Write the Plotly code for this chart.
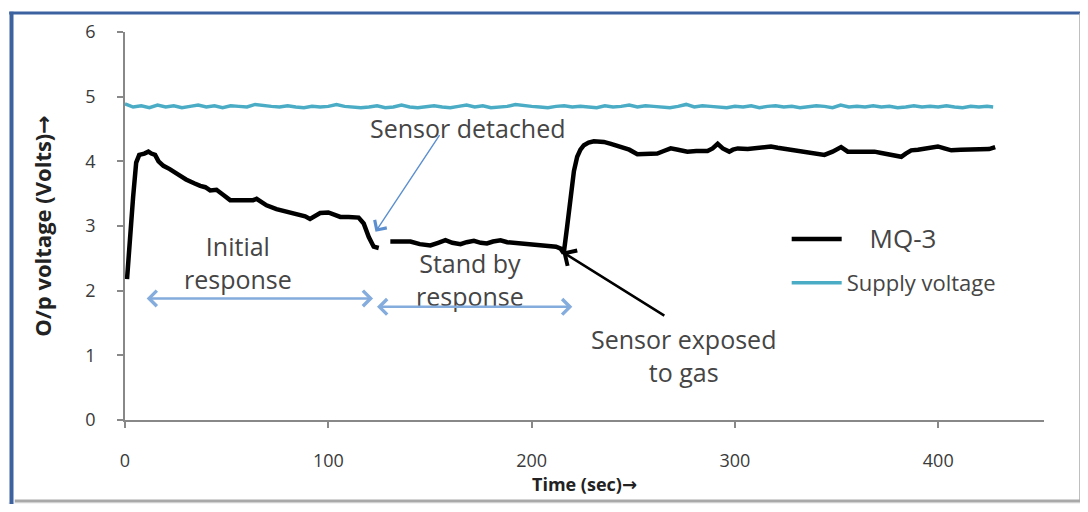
import plotly.graph_objects as go

# ---------------- data ----------------
mq3_time = [1.0, 2.5, 4.0, 5.5, 7.0, 9.5, 11.5, 13.0, 14.8, 16.5, 18.9, 22.0, 25.4, 28.0,
            30.0, 32.0, 34.0, 37.0, 39.5, 41.9, 45.0, 48.4, 51.7, 56.0, 60.0, 63.0, 64.7,
            67.0, 69.6, 74.5, 78.0, 82.8, 88.6, 91.0, 93.5, 96.0, 100.0, 103.0, 105.9,
            110.0, 114.9, 117.4, 119.9, 122.3, 124.8, None,
            130.5, 135.0, 140.4, 145.0, 150.2, 154.0, 157.6, 161.0, 165.0, 168.0, 171.6,
            175.0, 178.0, 181.0, 184.7, 188.0, 191.2, 195.0, 199.5, 204.0, 209.4, 212.0,
            214.3, 215.8, 217.5, 219.2, 220.8, 222.4, 224.0, 225.7, 228.0, 230.6, 233.0,
            235.5, 239.0, 243.8, 248.0, 252.0, 256.0, 261.8, 265.0, 268.4, 272.0, 276.6,
            281.0, 286.5, 289.0, 291.5, 294.0, 297.2, 299.0, 301.4, 306.3, 312.0, 317.7,
            321.0, 325.9, 331.0, 335.8, 340.0, 344.0, 348.0, 352.2, 355.5, 360.0, 364.0,
            368.6, 372.0, 375.2, 378.0, 381.8, 384.0, 386.7, 390.0, 395.0, 399.8, 403.0,
            406.4, 411.0, 416.0, 421.0, 425.0, 428.0]
mq3_volts = [2.18, 2.90, 3.45, 3.98, 4.10, 4.12, 4.15, 4.12, 4.10, 4.00, 3.93, 3.88, 3.80, 3.76,
             3.72, 3.68, 3.66, 3.62, 3.60, 3.55, 3.56, 3.48, 3.40, 3.40, 3.40, 3.40, 3.42,
             3.37, 3.32, 3.26, 3.23, 3.20, 3.15, 3.11, 3.15, 3.20, 3.21, 3.17, 3.14,
             3.14, 3.13, 3.04, 2.83, 2.68, 2.66, None,
             2.76, 2.76, 2.76, 2.72, 2.70, 2.74, 2.78, 2.74, 2.72, 2.75, 2.77,
             2.74, 2.73, 2.76, 2.78, 2.75, 2.74, 2.73, 2.73, 2.71, 2.70, 2.68,
             2.65, 2.58, 3.00, 3.50, 3.85, 4.07, 4.18, 4.25, 4.29, 4.31, 4.31,
             4.30, 4.27, 4.23, 4.18, 4.11, 4.11, 4.12, 4.16, 4.20, 4.18, 4.15,
             4.16, 4.16, 4.20, 4.27, 4.20, 4.15, 4.18, 4.20, 4.19, 4.21, 4.23,
             4.21, 4.19, 4.17, 4.15, 4.12, 4.10, 4.15, 4.22, 4.15, 4.15, 4.15,
             4.15, 4.13, 4.11, 4.09, 4.07, 4.12, 4.17, 4.18, 4.20, 4.23, 4.20,
             4.17, 4.18, 4.18, 4.18, 4.19, 4.22]

supply_time = [0, 4, 8, 12, 16, 20, 24, 28, 32, 36, 40, 44, 48, 52, 56, 60, 64, 68, 72, 76,
               80, 84, 88, 92, 96, 100, 104, 108, 112, 116, 120, 124, 128, 132, 136, 140,
               144, 148, 152, 156, 160, 164, 168, 172, 176, 180, 184, 188, 192, 196, 200,
               204, 208, 212, 216, 220, 224, 228, 232, 236, 240, 244, 248, 252, 256, 260,
               264, 268, 272, 276, 280, 284, 288, 292, 296, 300, 304, 308, 312, 316, 320,
               324, 328, 332, 336, 340, 344, 348, 352, 356, 360, 364, 368, 372, 376, 380,
               384, 388, 392, 396, 400, 404, 408, 412, 416, 420, 424, 427]
supply_volts = [4.89, 4.84, 4.86, 4.83, 4.87, 4.84, 4.86, 4.83, 4.85, 4.87, 4.84, 4.86, 4.83,
                4.86, 4.85, 4.84, 4.88, 4.86, 4.85, 4.84, 4.86, 4.84, 4.83, 4.85, 4.84, 4.85,
                4.88, 4.85, 4.84, 4.83, 4.84, 4.86, 4.83, 4.84, 4.87, 4.84, 4.83, 4.85, 4.86,
                4.84, 4.83, 4.85, 4.87, 4.84, 4.86, 4.83, 4.84, 4.85, 4.88, 4.86, 4.85, 4.84,
                4.83, 4.85, 4.86, 4.84, 4.85, 4.84, 4.83, 4.86, 4.84, 4.85, 4.87, 4.84, 4.86,
                4.85, 4.84, 4.83, 4.85, 4.88, 4.84, 4.86, 4.85, 4.84, 4.83, 4.85, 4.84, 4.86,
                4.83, 4.85, 4.86, 4.84, 4.85, 4.83, 4.84, 4.86, 4.85, 4.83, 4.87, 4.84, 4.85,
                4.84, 4.86, 4.84, 4.85, 4.83, 4.84, 4.86, 4.84, 4.85, 4.84, 4.86, 4.84, 4.83,
                4.85, 4.84, 4.85, 4.84]

x_ticks = [0, 100, 200, 300, 400]
y_ticks = [0, 1, 2, 3, 4, 5, 6]

FONT = "Open Sans"
TXT = "#454545"
ARROW = "<span style='font-family:DejaVu Sans'>\u2192</span>"

fig = go.Figure()

fig.add_trace(go.Scatter(
    x=supply_time, y=supply_volts, mode="lines", name="Supply voltage",
    line=dict(color="#4bacc6", width=3.5), legendgroup="b", legendrank=2,
))
fig.add_trace(go.Scatter(
    x=mq3_time, y=mq3_volts, mode="lines",
    name="\u00a0\u00a0\u00a0\u00a0<span style='font-size:26px'>MQ-3</span>",
    line=dict(color="#000000", width=4.5), connectgaps=False,
    legendgroup="a", legendrank=1,
))

# ---------------- annotations ----------------
ann = []
def label(text, x, y, size=25):
    ann.append(dict(x=x, y=y, xref="x", yref="y", text=text, showarrow=False,
                    font=dict(family=FONT, size=size, color=TXT),
                    xanchor="center", yanchor="middle", align="center"))

label("Sensor detached", 168.8, 4.51)
label("Initial<br>response", 55.6, 2.44)
label("Stand by<br>response", 169.7, 2.18)
label("Sensor exposed<br>to gas", 274.5, 0.99)

def arrow(hx, hy, tx, ty, color, width, size, both=False):
    d = dict(x=hx, y=hy, ax=tx, ay=ty, xref="x", yref="y", axref="x", ayref="y",
             text="", showarrow=True, arrowhead=4, arrowsize=size, arrowwidth=width,
             arrowcolor=color, standoff=0, startstandoff=0)
    if both:
        d.update(arrowside="end+start", startarrowhead=4, startarrowsize=size)
    ann.append(d)

arrow(123.2, 2.91, 155.2, 4.43, "#5b8fd0", 1.4, 2.0)
arrow(122.0, 1.88, 9.9, 1.88, "#84acdc", 2.5, 1.2, both=True)
arrow(220.0, 1.75, 123.2, 1.75, "#84acdc", 2.5, 1.2, both=True)
arrow(215.1, 2.60, 266.0, 1.60, "#000000", 2.5, 1.4)

# ---------------- frame shapes (paper coords; plot area 919 x 388 px) ----------------
shapes = [
    dict(type="rect", xref="paper", yref="paper", x0=-0.2, x1=1.2, y0=-0.26, y1=-0.212,
         fillcolor="#f3f3f3", line=dict(width=0), layer="below"),
    dict(type="line", xref="paper", yref="paper", x0=-0.126, x1=1.042, y0=1.049, y1=1.049,
         line=dict(color="#3d62a0", width=3)),
    dict(type="line", xref="paper", yref="paper", x0=-0.1235, x1=-0.1235, y0=-0.26, y1=1.052,
         line=dict(color="#3d62a0", width=4)),
    dict(type="line", xref="paper", yref="paper", x0=1.040, x1=1.040, y0=-0.209, y1=1.049,
         line=dict(color="#a9a9a9", width=3)),
    dict(type="line", xref="paper", yref="paper", x0=-0.12, x1=1.040, y0=-0.209, y1=-0.209,
         line=dict(color="#a9a9a9", width=3)),
]

# page has an 8px body margin: figure pixel p is shown at page pixel p+8
fig.update_layout(
    width=1080, height=496, autosize=False,
    margin=dict(l=117, r=44, t=24, b=84, pad=0),
    paper_bgcolor="white", plot_bgcolor="white",
    font=dict(family=FONT, color=TXT),
    showlegend=True,
    legend=dict(x=0.72, y=0.52, xanchor="left", yanchor="top",
                bgcolor="rgba(0,0,0,0)", font=dict(family=FONT, size=22, color=TXT),
                traceorder="grouped", tracegroupgap=12, itemwidth=50),
    annotations=ann,
    shapes=shapes,
    xaxis=dict(range=[0, 452], tickvals=x_ticks, ticktext=[str(v) for v in x_ticks],
               showline=True, linecolor="#888888", linewidth=1.5, ticks="outside",
               ticklen=6, tickcolor="#888888", tickwidth=1.5, showgrid=False, zeroline=False,
               tickfont=dict(family=FONT, size=18, color="#3a3a3a"), ticklabelstandoff=18,
               title=dict(text="<b>Time (sec)" + ARROW + "</b>",
                          font=dict(family=FONT, size=18, color="#222222"), standoff=2)),
    yaxis=dict(range=[0, 6], tickvals=y_ticks, ticktext=[str(v) for v in y_ticks],
               showline=True, linecolor="#888888", linewidth=1.5, ticks="outside",
               ticklen=6, tickcolor="#888888", tickwidth=1.5, showgrid=False, zeroline=False,
               tickfont=dict(family=FONT, size=18, color="#3a3a3a"), ticklabelstandoff=18,
               title=dict(text="<b>O/p voltage (Volts)" + ARROW + "</b>",
                          font=dict(family=FONT, size=22, color="#222222"), standoff=28)),
)

fig.write_html("out.html")
